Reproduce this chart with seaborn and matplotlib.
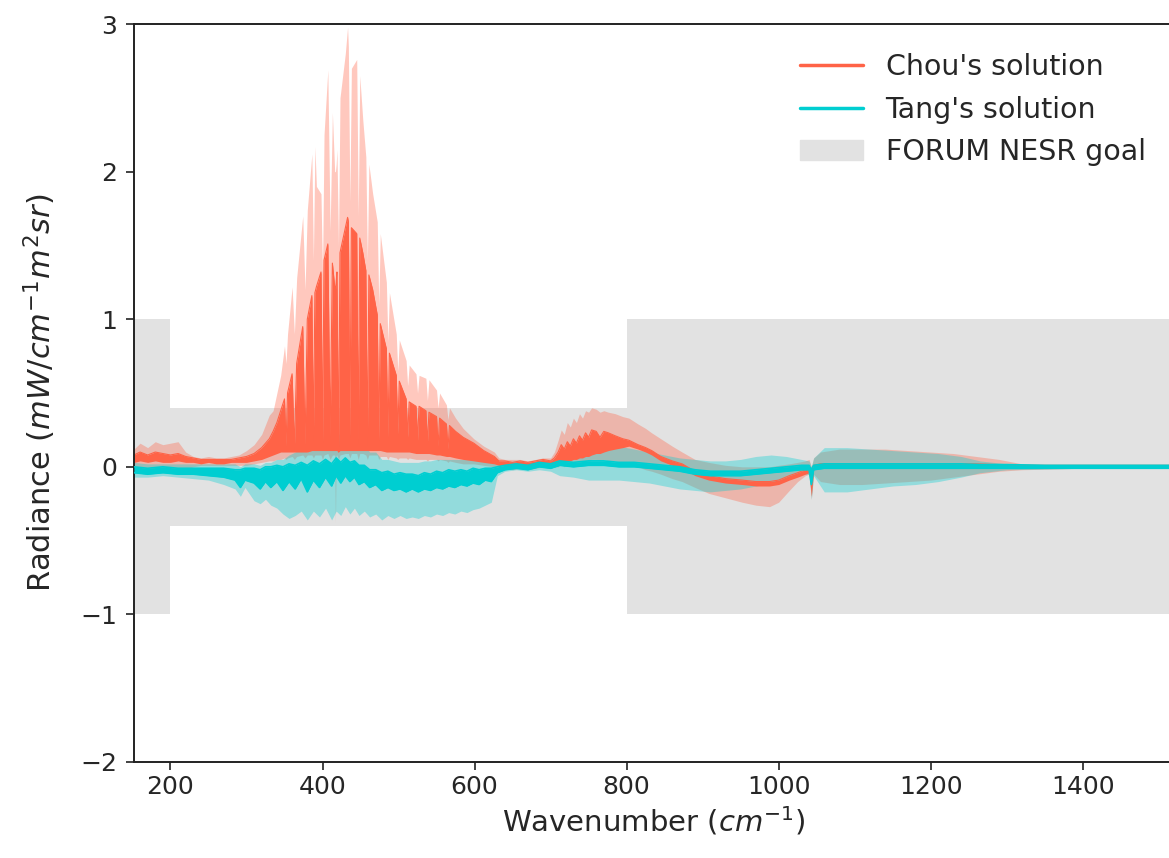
import numpy as np
import matplotlib
matplotlib.use("Agg")
import matplotlib.pyplot as plt
from matplotlib.lines import Line2D
from matplotlib.patches import Patch
import seaborn as sns

# Chou's solution: the dense spectrum is drawn as its upper/lower envelope
# (top / floor) plus the light spread band (high / low)
chou_wn = [152, 160, 170, 180, 190, 200, 210, 220, 230, 240, 250, 260, 270, 280, 290, 300, 310, 320, 330,
           335, 340, 345, 350, 352, 354, 360, 363, 366, 374,
           377, 380, 386, 388, 390, 392, 398, 400, 402, 407,
           410, 413, 416, 417, 418, 419, 421, 423, 430, 433,
           434, 436, 438, 445, 447, 449, 453, 457, 459, 461,
           466, 472, 474, 476, 484, 486, 488, 497, 499, 501,
           510, 512, 514, 523, 525, 527, 536, 538, 540, 550,
           552, 554, 563, 565, 567, 575, 585, 599, 612, 626,
           632,
           640, 650, 660, 670, 680, 690, 700, 705,
           710, 714, 718, 722, 726, 730, 734, 738, 742, 746, 750, 754, 760, 765, 770, 776, 785, 795, 803,
           815, 825, 833, 845, 860, 873, 890, 908, 930, 952, 970, 988, 1000, 1014, 1025, 1035, 1040, 1043, 1046,
           1055, 1080, 1110, 1140, 1170, 1200, 1230, 1260, 1290, 1320, 1360, 1400, 1450, 1519]
chou_top = [0.08, 0.10, 0.08, 0.10, 0.09, 0.08, 0.09, 0.07, 0.06, 0.05, 0.05, 0.05, 0.05, 0.05, 0.06, 0.07, 0.09, 0.13, 0.19,
            0.24, 0.30, 0.38, 0.46, 0.14, 0.50, 0.63, 0.12, 0.70, 0.95,
            0.15, 1.00, 1.16, 0.18, 1.18, 1.22, 1.32, 0.16, 1.40, 1.51,
            0.20, 1.38, 1.22, 1.20, 1.25, 1.32, 0.10, 1.45, 1.62, 1.69,
            1.66, 0.20, 1.62, 1.58, 0.16, 1.55, 1.45, 1.33, 0.14, 1.30,
            1.20, 1.03, 0.18, 0.97, 0.80, 0.20, 0.77, 0.62, 0.22, 0.58,
            0.46, 0.20, 0.44, 0.41, 0.18, 0.41, 0.38, 0.16, 0.37, 0.34,
            0.14, 0.33, 0.29, 0.12, 0.28, 0.24, 0.20, 0.16, 0.11, 0.07,
            0.04,
            0.04, 0.03, 0.04, 0.03, 0.04, 0.05, 0.04, 0.06,
            0.10, 0.15, 0.12, 0.17, 0.14, 0.19, 0.16, 0.21, 0.18, 0.23, 0.20, 0.25, 0.24, 0.20, 0.24, 0.23, 0.21, 0.19, 0.18,
            0.15, 0.13, 0.11, 0.07, 0.04, 0.02, -0.03, -0.06, -0.08, -0.09, -0.10, -0.10, -0.09, -0.06, -0.04, -0.02, -0.01, -0.05, 0.01,
            0.02, 0.02, 0.02, 0.02, 0.02, 0.02, 0.02, 0.02, 0.015, 0.01, 0.01, 0.01, 0.01, 0.01]
chou_floor = [0.03, 0.04, 0.03, 0.04, 0.03, 0.03, 0.04, 0.03, 0.03, 0.02, 0.03, 0.02, 0.02, 0.03, 0.03, 0.03, 0.04, 0.05, 0.07,
              0.08, 0.09, 0.10, 0.10, 0.10, 0.10, 0.10, 0.10, 0.10, 0.10,
              0.10, 0.10, 0.11, 0.11, 0.11, 0.11, 0.11, 0.11, 0.11, 0.11,
              0.11, 0.11, 0.11, 0.11, 0.11, 0.11, 0.10, 0.11, 0.11, 0.11,
              0.11, 0.11, 0.11, 0.11, 0.11, 0.11, 0.11, 0.11, 0.11, 0.11,
              0.11, 0.11, 0.11, 0.11, 0.10, 0.10, 0.10, 0.10, 0.10, 0.10,
              0.10, 0.10, 0.10, 0.09, 0.09, 0.09, 0.09, 0.09, 0.09, 0.08,
              0.08, 0.08, 0.07, 0.07, 0.07, 0.06, 0.05, 0.04, 0.03, 0.02,
              0.01,
              0.01, 0.0, 0.01, 0.0, 0.01, 0.02, 0.01, 0.02,
              0.02, 0.03, 0.03, 0.04, 0.04, 0.05, 0.05, 0.06, 0.06, 0.07, 0.07, 0.08, 0.09, 0.09, 0.10, 0.11, 0.12, 0.13, 0.14,
              0.12, 0.10, 0.08, 0.04, 0.01, -0.01, -0.06, -0.09, -0.11, -0.12, -0.13, -0.13, -0.12, -0.09, -0.07, -0.05, -0.04, -0.20, -0.02,
              -0.01, -0.01, -0.01, -0.01, -0.01, -0.01, -0.01, -0.01, -0.01, -0.01, -0.01, -0.01, -0.01, -0.01]
chou_high = [0.12, 0.16, 0.13, 0.17, 0.15, 0.16, 0.17, 0.10, 0.07, 0.06, 0.07, 0.06, 0.06, 0.07, 0.08, 0.11, 0.15, 0.22, 0.35,
             0.38, 0.50, 0.62, 0.82, 0.70, 0.90, 1.22, 0.90, 1.28, 1.70,
             1.20, 1.74, 2.12, 1.40, 2.17, 1.90, 1.85, 1.30, 2.25, 2.69,
             1.60, 2.40, 2.00, 2.00, 2.05, 2.15, 1.50, 2.50, 2.80, 2.98,
             2.85, 1.80, 2.70, 2.76, 1.70, 2.65, 2.35, 2.10, 1.40, 2.05,
             1.85, 1.66, 1.10, 1.58, 1.25, 0.85, 1.18, 0.90, 0.65, 0.86,
             0.72, 0.55, 0.69, 0.63, 0.50, 0.62, 0.60, 0.45, 0.59, 0.52,
             0.40, 0.50, 0.42, 0.32, 0.40, 0.33, 0.26, 0.19, 0.14, 0.10,
             0.06,
             0.05, 0.05, 0.05, 0.04, 0.05, 0.06, 0.06, 0.10,
             0.18, 0.25, 0.22, 0.30, 0.27, 0.33, 0.30, 0.36, 0.33, 0.38, 0.37, 0.40, 0.39, 0.37, 0.38, 0.37, 0.36, 0.34, 0.33,
             0.29, 0.26, 0.23, 0.19, 0.14, 0.10, 0.05, 0.03, 0.01, 0.0, 0.0, 0.0, 0.01, 0.02, 0.03, 0.04, 0.05, 0.0, 0.06,
             0.10, 0.12, 0.12, 0.12, 0.11, 0.10, 0.09, 0.07, 0.05, 0.02, 0.015, 0.01, 0.01, 0.01]
chou_low = [-0.04, -0.04, -0.05, -0.04, -0.04, -0.03, -0.03, -0.02, 0.0, 0.01, 0.01, 0.01, 0.01, 0.01, 0.01, 0.01, 0.02, 0.03, 0.04,
            0.04, 0.05, 0.05, 0.06, 0.05, 0.06, 0.07, 0.05, 0.07, 0.08,
            0.06, 0.08, 0.08, 0.06, 0.08, 0.08, 0.08, 0.05, 0.08, 0.09,
            0.05, 0.08, 0.08, -0.38, 0.08, 0.08, 0.05, 0.08, 0.09, 0.09,
            0.09, 0.06, 0.09, 0.09, 0.05, 0.09, 0.09, 0.08, 0.05, 0.08,
            0.08, 0.08, 0.05, 0.07, 0.07, 0.05, 0.07, 0.06, 0.05, 0.06,
            0.06, 0.05, 0.06, 0.05, 0.05, 0.05, 0.05, 0.04, 0.05, 0.05,
            0.04, 0.05, 0.04, 0.03, 0.04, 0.03, 0.02, 0.02, 0.01, 0.0,
            0.0,
            -0.01, -0.02, -0.01, -0.02, -0.01, 0.0, -0.01, 0.0,
            0.0, 0.02, 0.0, 0.03, 0.01, 0.03, 0.02, 0.03, 0.02, 0.04, 0.03, 0.05, 0.05, 0.04, 0.05, 0.04, 0.04, 0.03, 0.02,
            0.0, -0.02, -0.03, -0.05, -0.08, -0.10, -0.14, -0.18, -0.21, -0.24, -0.26, -0.27, -0.24, -0.16, -0.10, -0.06, -0.05, -0.22, -0.05,
            -0.10, -0.12, -0.12, -0.11, -0.10, -0.09, -0.07, -0.05, -0.03, -0.02, -0.015, -0.01, -0.01, -0.01]

# Tang's solution
tang_wn = [152, 170, 190, 210, 230, 250, 270, 285, 292, 298,
           310, 318, 325, 332, 340, 348, 356, 364, 372, 380,
           388, 396, 404, 412, 418, 424, 430, 436, 442, 448,
           455, 462, 470, 478, 486, 494, 502, 510, 518, 526,
           534, 542, 550, 558, 566, 574, 582, 590, 598, 606,
           614, 622, 630, 640, 655, 670, 685, 700, 712, 730,
           750, 770, 790, 810, 830, 850, 870, 890, 910, 930,
           950, 970, 990, 1010, 1030, 1040, 1043, 1046, 1060, 1090,
           1120, 1150, 1180, 1210, 1240, 1265, 1300, 1350, 1400, 1519]
tang_top = [0.0, -0.01, 0.0, -0.01, -0.01, -0.01, -0.01, -0.02, -0.02, -0.01,
            -0.01, -0.02, 0.0, 0.0, 0.01, 0.0, 0.02, 0.01, 0.03, 0.01,
            0.04, 0.02, 0.05, 0.02, 0.06, 0.03, 0.06, 0.03, 0.04, 0.01,
            0.01, -0.02, -0.02, -0.04, -0.03, -0.05, -0.04, -0.05, -0.05, -0.06,
            -0.04, -0.05, -0.03, -0.04, -0.02, -0.03, -0.02, -0.03, -0.01, -0.02,
            -0.01, -0.01, 0.0, 0.01, 0.02, 0.01, 0.03, 0.02, 0.04, 0.03,
            0.04, 0.04, 0.03, 0.03, 0.02, 0.01, 0.0, -0.02, -0.03, -0.03,
            -0.03, -0.02, -0.01, 0.0, 0.01, 0.01, -0.02, 0.01, 0.02, 0.02,
            0.02, 0.02, 0.02, 0.02, 0.02, 0.015, 0.015, 0.01, 0.01, 0.01]
tang_floor = [-0.04, -0.05, -0.04, -0.05, -0.05, -0.06, -0.07, -0.09, -0.14, -0.09,
              -0.11, -0.15, -0.10, -0.14, -0.10, -0.16, -0.10, -0.15, -0.08, -0.17,
              -0.09, -0.14, -0.07, -0.13, -0.06, -0.11, -0.06, -0.10, -0.07, -0.12,
              -0.10, -0.14, -0.12, -0.16, -0.14, -0.16, -0.15, -0.17, -0.15, -0.17,
              -0.15, -0.16, -0.14, -0.15, -0.13, -0.14, -0.12, -0.13, -0.11, -0.12,
              -0.09, -0.10, -0.04, -0.02, -0.01, -0.02, 0.0, -0.01, 0.01, 0.0,
              0.01, 0.01, 0.0, 0.0, -0.01, -0.02, -0.03, -0.05, -0.06, -0.06,
              -0.06, -0.05, -0.04, -0.03, -0.02, -0.02, -0.12, -0.02, -0.01, -0.01,
              -0.01, -0.01, -0.01, -0.01, -0.01, -0.01, -0.01, -0.01, -0.01, -0.01]
tang_high = [0.03, 0.02, 0.02, 0.02, 0.02, 0.02, 0.02, 0.02, 0.0, 0.02,
             0.02, 0.01, 0.03, 0.03, 0.05, 0.05, 0.08, 0.10, 0.12, 0.10,
             0.15, 0.12, 0.20, 0.15, 0.25, 0.20, 0.28, 0.22, 0.22, 0.15,
             0.15, 0.10, 0.10, 0.05, 0.05, 0.04, 0.03, 0.03, 0.03, 0.03,
             0.04, 0.04, 0.05, 0.05, 0.05, 0.05, 0.05, 0.05, 0.05, 0.05,
             0.05, 0.04, 0.03, 0.03, 0.04, 0.03, 0.04, 0.04, 0.08, 0.12,
             0.15, 0.15, 0.14, 0.12, 0.10, 0.08, 0.06, 0.05, 0.04, 0.04,
             0.05, 0.07, 0.08, 0.07, 0.05, 0.04, 0.0, 0.06, 0.13, 0.13,
             0.12, 0.11, 0.10, 0.09, 0.07, 0.04, 0.02, 0.015, 0.01, 0.01]
tang_low = [-0.07, -0.07, -0.06, -0.07, -0.08, -0.09, -0.12, -0.15, -0.20, -0.14,
            -0.23, -0.25, -0.22, -0.26, -0.28, -0.32, -0.35, -0.33, -0.30, -0.36,
            -0.30, -0.34, -0.28, -0.36, -0.30, -0.33, -0.27, -0.32, -0.28, -0.33,
            -0.30, -0.34, -0.32, -0.36, -0.33, -0.35, -0.33, -0.35, -0.34, -0.35,
            -0.33, -0.34, -0.32, -0.33, -0.31, -0.32, -0.30, -0.31, -0.29, -0.28,
            -0.26, -0.24, -0.06, -0.03, -0.02, -0.03, -0.02, -0.03, -0.06, -0.07,
            -0.09, -0.09, -0.09, -0.10, -0.11, -0.13, -0.15, -0.16, -0.17, -0.16,
            -0.15, -0.13, -0.11, -0.08, -0.05, -0.05, -0.22, -0.06, -0.17, -0.17,
            -0.15, -0.13, -0.12, -0.10, -0.07, -0.04, -0.02, -0.015, -0.01, -0.01]

# FORUM NESR goal (+/- half width)
nesr_wn = [152, 200, 200, 800, 800, 1519]
nesr_val = [1.0, 1.0, 0.4, 0.4, 1.0, 1.0]

red = "tomato"
cyan = "darkturquoise"
grey = "#e2e2e2"

sns.set_style("ticks")
fig = plt.figure(figsize=(11.69, 8.58), dpi=100)
ax = fig.add_axes([0.1146, 0.1119, 0.889, 0.8601])

ax.fill_between(nesr_wn, -np.array(nesr_val), nesr_val, color=grey, lw=0, zorder=0)

# spread bands first, then the spectra on top
ax.fill_between(chou_wn, chou_low, chou_high, color=red, alpha=0.35, lw=0, zorder=1)
ax.fill_between(tang_wn, tang_low, tang_high, color=cyan, alpha=0.35, lw=0, zorder=1.5)

ax.fill_between(chou_wn, chou_floor, chou_top, color=red, lw=0, zorder=2)
sns.lineplot(x=chou_wn, y=chou_top, ax=ax, color=red, lw=0.8, errorbar=None, zorder=2)

ax.fill_between(tang_wn, tang_floor, tang_top, color=cyan, lw=0, zorder=4)
sns.lineplot(x=tang_wn, y=tang_top, ax=ax, color=cyan, lw=1.2, errorbar=None, zorder=4)
sns.lineplot(x=tang_wn, y=tang_floor, ax=ax, color=cyan, lw=1.2, errorbar=None, zorder=4)

ax.set_xlim(152, 1519)
ax.set_ylim(-2, 3)
ax.set_xticks([200, 400, 600, 800, 1000, 1200, 1400])
ax.set_yticks([-2, -1, 0, 1, 2, 3])
ax.tick_params(labelsize=18, length=6, width=1.2, color="#222222")
ax.tick_params(axis="y", pad=6)
for s in ax.spines.values():
    s.set_linewidth(1.4)
    s.set_color("#222222")

ax.set_xlabel("Wavenumber ($cm^{-1}$)", fontsize=21)
ax.set_ylabel("Radiance ($mW/cm^{-1}m^2sr$)", fontsize=22)
ax.yaxis.set_label_coords(-0.073, 0.5)

handles = [Line2D([], [], color=red, lw=2.5),
           Line2D([], [], color=cyan, lw=2.5),
           Patch(color=grey)]
ax.legend(handles, ["Chou's solution", "Tang's solution", "FORUM NESR goal"],
          loc="upper right", frameon=False, fontsize=20.5, handlelength=2.2,
          bbox_to_anchor=(0.998, 0.995))

fig.savefig("out.png", dpi=100)
